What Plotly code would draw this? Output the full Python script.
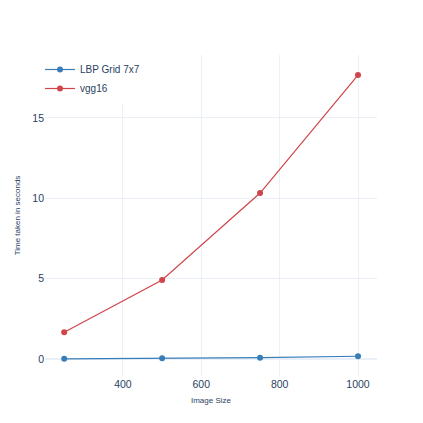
import plotly.graph_objects as go

image_sizes = [250, 500, 750, 1000]
lbp_times = [0.01, 0.04, 0.08, 0.17]
vgg_times = [1.66, 4.92, 10.33, 17.67]

fig = go.Figure()
fig.add_trace(go.Scatter(x=image_sizes, y=lbp_times, mode="lines+markers", name="LBP Grid 7x7",
                         line=dict(color="#377EB8", width=1.2), marker=dict(size=6)))
fig.add_trace(go.Scatter(x=image_sizes, y=vgg_times, mode="lines+markers", name="vgg16",
                         line=dict(color="#D0454A", width=1.2), marker=dict(size=6)))

fig.update_layout(
    template="plotly_white",
    width=423, height=423,
    margin=dict(l=37, r=54, t=47, b=55),
    font=dict(family="Liberation Sans, Arial, sans-serif", color="#2a3f5f", size=10),
    legend=dict(x=-0.015, y=1, xanchor="left", yanchor="top", font=dict(size=10)),
    xaxis=dict(title=dict(text="Image Size", font=dict(size=8), standoff=8), range=[201, 1048.5],
               automargin=False, tickfont=dict(size=10.5)),
    yaxis=dict(title=dict(text="Time taken in seconds", font=dict(size=8), standoff=10), range=[-1.06, 18.92],
               automargin=False, tickfont=dict(size=10.5)),
)
fig.write_html("out.html")
